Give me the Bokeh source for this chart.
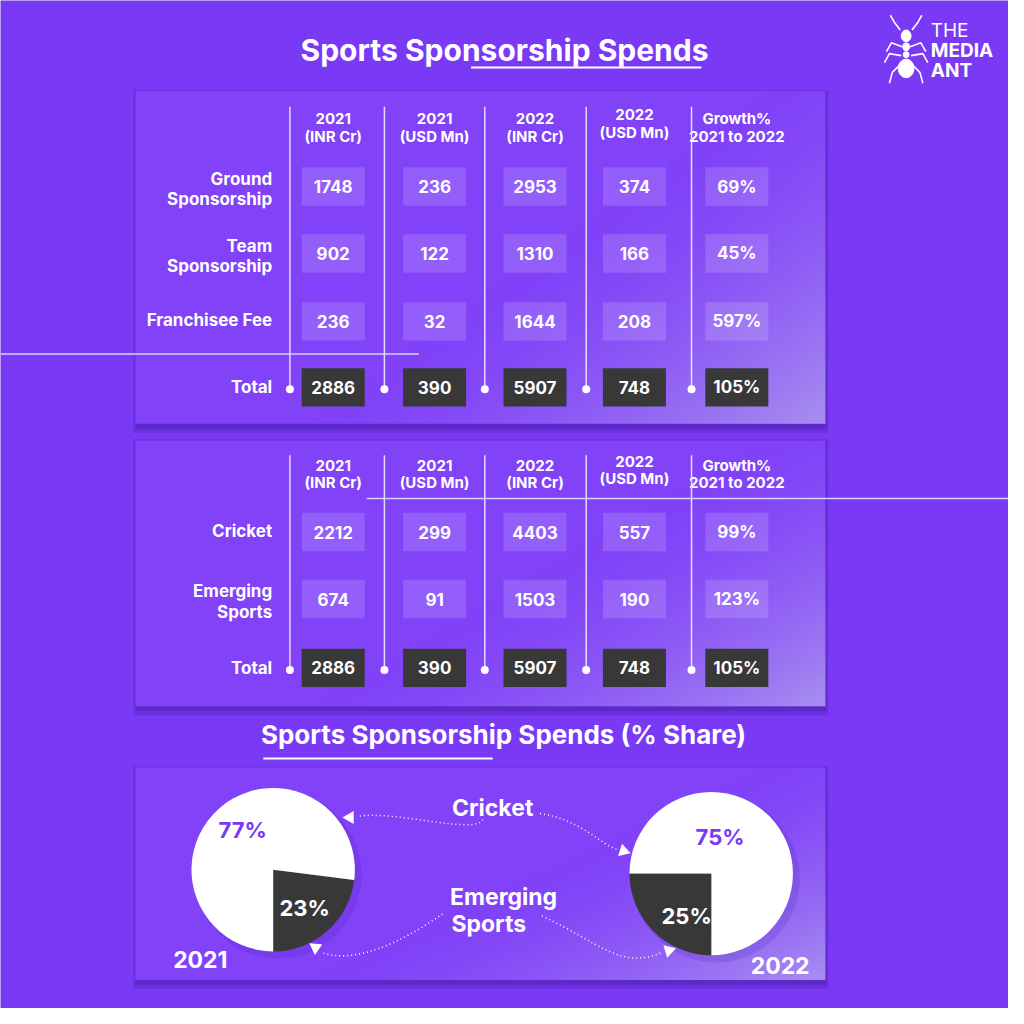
import numpy as np
from bokeh.plotting import figure
from bokeh.models import Range1d, ColumnDataSource
from bokeh.embed import file_html
from bokeh.resources import INLINE
from bokeh.core.properties import value

# ---------------- data ----------------
title = "Sports Sponsorship Spends"
title2 = "Sports Sponsorship Spends (% Share)"
header_top = ["2021", "2021", "2022", "2022", "Growth%"]
header_bot = ["(INR Cr)", "(USD Mn)", "(INR Cr)", "(USD Mn)", "2021 to 2022"]

type_labels = [["Ground", "Sponsorship"], ["Team", "Sponsorship"], ["Franchisee Fee"]]
type_inr_2021 = [1748, 902, 236]
type_usd_2021 = [236, 122, 32]
type_inr_2022 = [2953, 1310, 1644]
type_usd_2022 = [374, 166, 208]
type_growth = ["69%", "45%", "597%"]

sport_labels = [["Cricket"], ["Emerging", "Sports"]]
sport_inr_2021 = [2212, 674]
sport_usd_2021 = [299, 91]
sport_inr_2022 = [4403, 1503]
sport_usd_2022 = [557, 190]
sport_growth = ["99%", "123%"]

total_values = ["2886", "390", "5907", "748", "105%"]

share_names = ["Cricket", "Emerging Sports"]
share_2021 = [77, 23]
share_2022 = [75, 25]

# ---------------- style ----------------
FONT = "Inter"
BG = "#7a39f5"
WHITE = "#ffffff"
DARK = "#383838"

p = figure(width=1008, height=1008, x_range=Range1d(0, 1024), y_range=Range1d(0, 1024),
           output_backend="svg", toolbar_location=None, min_border=0)
p.axis.visible = False
p.grid.visible = False
p.outline_line_color = None
p.background_fill_color = BG
p.border_fill_color = BG


def Y(y):
    return 1024 - y


def txt(x, y, s, size, color=WHITE, align="center", style="bold"):
    p.text(x=[x], y=[Y(y)], text=[s], text_font=value(FONT), text_font_size=f"{size}px",
           text_font_style=style, text_color=color, text_align=align, text_baseline="middle")


def hex2rgb(h):
    h = h.lstrip("#")
    return np.array([int(h[i:i + 2], 16) for i in (0, 2, 4)], dtype=float)


def panel(x0, y0, x1, y1):
    p.quad(left=[x0 - 2], right=[x1 + 3], top=[Y(y0 - 1)], bottom=[Y(y1 + 9)],
           fill_color="#3a1590", fill_alpha=0.22, line_color=None)
    p.quad(left=[x0], right=[x1 + 1], top=[Y(y0)], bottom=[Y(y1 + 5)],
           fill_color="#3a1590", fill_alpha=0.28, line_color=None)
    w = int(x1 - x0)
    h = int(y1 - y0)
    u = np.linspace(0, 1, w)[None, :]
    d = 1 - np.linspace(0, 1, h)[:, None]
    t = np.clip((0.6 * u + 0.4 * d - 0.55) / 0.45, 0, 1) ** 1.6
    c0 = hex2rgb("#8142f8")
    c1 = hex2rgb("#a88ff0")
    img = np.empty((h, w), dtype=np.uint32)
    view = img.view(dtype=np.uint8).reshape((h, w, 4))
    for k in range(3):
        view[:, :, k] = (c0[k] * (1 - t) + c1[k] * t).astype(np.uint8)
    view[:, :, 3] = 255
    p.image_rgba(image=[img], x=x0, y=Y(y1), dw=w, dh=h)


# ---------------- title ----------------
txt(512, 50, title, 30)
p.segment(x0=[478], y0=[Y(68)], x1=[712], y1=[Y(68)], line_color=WHITE, line_width=2)

# logo
p.multi_line(xs=[[914, 908, 904], [926, 932, 936], [916, 905, 900], [924, 935, 940],
                 [915, 903, 898], [925, 937, 942], [916, 906, 903], [924, 934, 937]],
             ys=[[Y(30), Y(22), Y(15)], [Y(30), Y(22), Y(15)], [Y(47), Y(43), Y(52)], [Y(47), Y(43), Y(52)],
                 [Y(56), Y(54), Y(63)], [Y(56), Y(54), Y(63)], [Y(63), Y(73), Y(84)], [Y(63), Y(73), Y(84)]],
             line_color=WHITE, line_width=1.6)
p.ellipse(x=[920, 920, 920, 920], y=[Y(36), Y(47), Y(55), Y(69)], width=[10, 7, 6, 16],
          height=[12, 8, 6, 19], fill_color=WHITE, line_color=WHITE)
txt(945, 30, "THE", 19, align="left", style="normal")
txt(945, 51, "MEDIA", 19, align="left")
txt(945, 71, "ANT", 19, align="left")

col_x = [338, 441, 543, 644, 748]
line_x = [294, 390, 492, 595, 702]


def table(y0, y1, header_y, label_rows, cols, row_y, total_y, line_top, hline):
    panel(137, y0, 838, y1)
    for i, (a, b) in enumerate(zip(header_top, header_bot)):
        dy = -4 if i == 3 else 0
        txt(col_x[i], header_y + dy, a, 15)
        txt(col_x[i], header_y + 18 + dy, b, 15)
    p.segment(x0=line_x, y0=[Y(line_top)] * 5, x1=line_x, y1=[Y(total_y + 2)] * 5,
              line_color="#e6ddff", line_width=1.5)
    p.scatter(x=line_x, y=[Y(total_y + 2)] * 5, size=8, fill_color=WHITE, line_color=None)
    p.segment(x0=[hline[0]], y0=[Y(hline[2])], x1=[hline[1]], y1=[Y(hline[2])],
              line_color="#d9d0f5", line_width=1.5)
    for lab, ry in zip(label_rows, row_y):
        if len(lab) == 1:
            txt(276, ry - 1, lab[0], 17, align="right")
        else:
            txt(276, ry - 8, lab[0], 17, align="right")
            txt(276, ry + 13, lab[1], 17, align="right")
    txt(276, total_y, "Total", 17, align="right")
    xs, ys, vals = [], [], []
    for ci, col in enumerate(cols):
        for ri, v in enumerate(col):
            xs.append(col_x[ci])
            ys.append(Y(row_y[ri]))
            vals.append(str(v))
    src = ColumnDataSource(dict(x=xs, y=ys, v=vals))
    p.rect(x="x", y="y", width=64, height=39, source=src, fill_color=WHITE, fill_alpha=0.15, line_color=None)
    p.text(x="x", y="y", text="v", source=src, text_font=value(FONT), text_font_size="17px",
           text_font_style="bold", text_color=WHITE, text_align="center", text_baseline="middle")
    tsrc = ColumnDataSource(dict(x=col_x, y=[Y(total_y)] * 5, v=total_values))
    p.rect(x="x", y="y", width=64, height=39, source=tsrc, fill_color=DARK, line_color=None)
    p.text(x="x", y="y", text="v", source=tsrc, text_font=value(FONT), text_font_size="17px",
           text_font_style="bold", text_color=WHITE, text_align="center", text_baseline="middle")


table(92, 430, 120, type_labels,
      [type_inr_2021, type_usd_2021, type_inr_2022, type_usd_2022, type_growth],
      [189, 257, 326], 393, 108, (0, 425, 359))
table(447, 717, 472, sport_labels,
      [sport_inr_2021, sport_usd_2021, sport_inr_2022, sport_usd_2022, sport_growth],
      [540, 608], 678, 462, (372, 1024, 506))

# ---------------- share section ----------------
txt(511, 746, title2, 26)
p.segment(x0=[267], y0=[Y(770)], x1=[500], y1=[Y(770)], line_color=WHITE, line_width=2)
panel(137, 779, 838, 995)


def pie(cx, cy, shares, order, label_pos, year, year_pos):
    r = 83
    p.circle(x=[cx + 5], y=[Y(cy + 5)], radius=r + 2, fill_color="#4a1fb0", fill_alpha=0.18, line_color=None)
    colors = [WHITE, DARK]
    start = -np.pi / 2
    for idx in order:
        ext = shares[idx] / 100 * 2 * np.pi
        p.wedge(x=[cx], y=[Y(cy)], radius=r, start_angle=[start], end_angle=[start + ext],
                fill_color=colors[idx], line_color=None)
        start += ext
    txt(label_pos[0][0], label_pos[0][1], f"{shares[0]}%", 22, color=BG)
    txt(label_pos[1][0], label_pos[1][1], f"{shares[1]}%", 22)
    txt(year_pos[0], year_pos[1], year, 23)


pie(277, 883, share_2021, [1, 0], [(246, 843), (309, 922)], "2021", (203, 974))
pie(722, 887, share_2022, [0, 1], [(731, 850), (697, 930)], "2022", (792, 980))

txt(500, 820, share_names[0], 23)
txt(511, 911, "Emerging", 23)
txt(496, 938, "Sports", 23)

# dotted arrows
bx0 = [490, 548, 449, 550]
by0 = [Y(832), Y(826), Y(928), Y(930)]
bcx0 = [482, 590, 410, 610]
bcy0 = [Y(848), Y(832), Y(955), Y(958)]
bcx1 = [400, 610, 360, 630]
bcy1 = [Y(822), Y(858), Y(980), Y(985)]
bx1 = [362, 626, 326, 672]
by1 = [Y(829), Y(862), Y(967), Y(967)]
p.bezier(x0=bx0, y0=by0, x1=bx1, y1=by1, cx0=bcx0, cy0=bcy0, cx1=bcx1, cy1=bcy1,
         line_color=WHITE, line_width=1.5, line_dash="1 3")
p.scatter(x=[355, 633, 320, 679], y=[Y(830), Y(864), Y(962), Y(965)], marker="triangle",
          size=13, angle=[np.pi / 2, -np.pi / 2 - 0.3, np.pi / 2 - 0.6, -np.pi / 2 + 0.3],
          fill_color=WHITE, line_color=None)

open("out.html", "w").write(file_html(p, INLINE))
